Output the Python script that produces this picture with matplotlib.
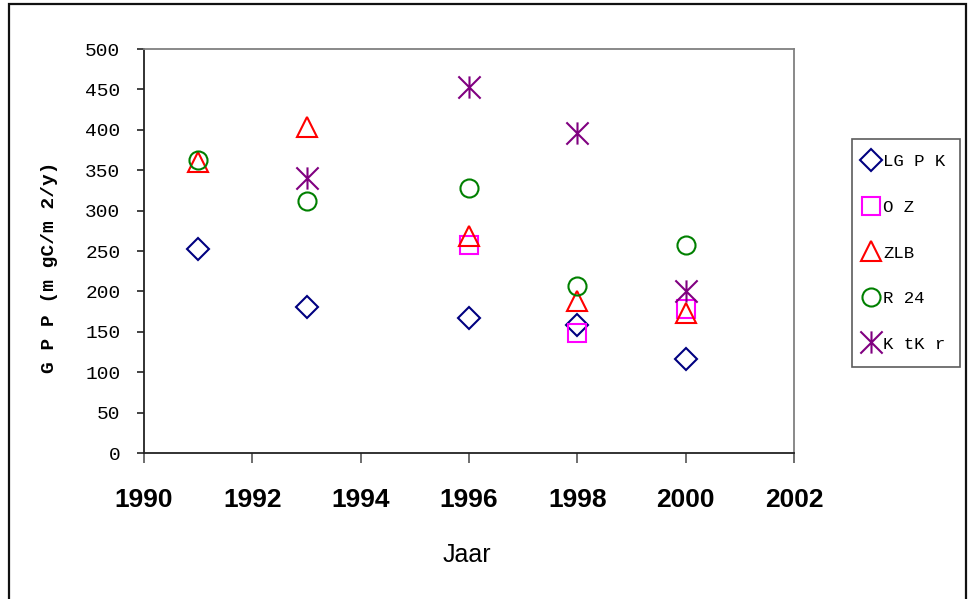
import matplotlib
matplotlib.use("Agg")
import matplotlib.pyplot as plt
from matplotlib.path import Path
from matplotlib.patches import Rectangle

# GPP per site and year
years_lgpk = [1991, 1993, 1996, 1998, 2000]
lgpk = [253, 181, 167, 158, 116]

years_oz = [1996, 1998, 2000]
oz = [257, 148, 178]

years_zlb = [1991, 1993, 1996, 1998, 2000]
zlb = [360, 404, 268, 188, 173]

years_r24 = [1991, 1993, 1996, 1998, 2000]
r24 = [363, 312, 328, 207, 257]

years_ktkr = [1993, 1996, 1998, 2000]
ktkr = [340, 453, 396, 201]

series_labels = ["LG P K", "O Z", "ZLB", "R 24", "K tK r"]
x_ticks = [1990, 1992, 1994, 1996, 1998, 2000, 2002]
y_ticks = [0, 50, 100, 150, 200, 250, 300, 350, 400, 450, 500]

# six-armed asterisk marker
star = Path([(0, -1), (0, 1), (-1, -1), (1, 1), (-1, 1), (1, -1)],
            [Path.MOVETO, Path.LINETO, Path.MOVETO, Path.LINETO,
             Path.MOVETO, Path.LINETO])

fig = plt.figure(figsize=(9.70, 5.99), dpi=100)
ax = fig.add_axes([144 / 970, 1 - 453 / 599, 650 / 970, 404 / 599])

mew = 1.5
ax.plot(years_lgpk, lgpk, ls="none", marker="D", ms=11.5, mfc="none",
        mec="#000080", mew=mew, label=series_labels[0])
ax.plot(years_oz, oz, ls="none", marker="s", ms=13, mfc="none",
        mec="#FF00FF", mew=mew, label=series_labels[1])
ax.plot(years_zlb, zlb, ls="none", marker="^", ms=15, mfc="none",
        mec="#FF0000", mew=mew, label=series_labels[2])
ax.plot(years_r24, r24, ls="none", marker="o", ms=13, mfc="none",
        mec="#008000", mew=mew, label=series_labels[3])
ax.plot(years_ktkr, ktkr, ls="none", marker=star, ms=16, mfc="none",
        mec="#800080", mew=mew, label=series_labels[4])

ax.set_xlim(1990, 2002)
ax.set_ylim(0, 500)
ax.set_xticks(x_ticks)
ax.set_yticks(y_ticks)
ax.set_xticklabels([str(t) for t in x_ticks], fontsize=19,
                   fontweight="bold", family="Liberation Sans")
ax.set_yticklabels([str(t) for t in y_ticks], fontsize=14,
                   family="Liberation Mono")
ax.tick_params(axis="y", direction="out", length=5, width=1.2, pad=12,
               color="#222222")
ax.tick_params(axis="x", direction="out", length=7, width=1.2, pad=18,
               color="#555555")

for side in ("left", "bottom"):
    ax.spines[side].set_color("#222222")
    ax.spines[side].set_linewidth(1.3)
for side in ("top", "right"):
    ax.spines[side].set_color("#808080")
    ax.spines[side].set_linewidth(1.3)

fig.text(50 / 970, 1 - 267 / 599, "G P P (m gC/m 2/y)", rotation=90,
         ha="center", va="center", fontsize=14, fontweight="bold",
         family="Liberation Mono")
fig.text(467 / 970, 1 - 555 / 599, "Jaar", ha="center", va="center",
         fontsize=18, family="Liberation Sans")

leg = ax.legend(loc="upper left", bbox_to_anchor=(852 / 970, 1 - 139 / 599),
                bbox_transform=fig.transFigure, frameon=True, fancybox=False,
                borderaxespad=0,
                prop={"family": "Liberation Mono", "size": 12.5},
                labelspacing=1.75, handlelength=0.45,
                handletextpad=0.45, borderpad=0.88)
leg.get_frame().set_edgecolor("#333333")
leg.get_frame().set_linewidth(1.2)

# border around the whole chart
fig.patches.append(Rectangle((9 / 970, -0.01), 957 / 970, 1.01 - 4 / 599,
                             transform=fig.transFigure, fill=False,
                             edgecolor="#111111", linewidth=1.6))

fig.savefig("out.png", dpi=100)
